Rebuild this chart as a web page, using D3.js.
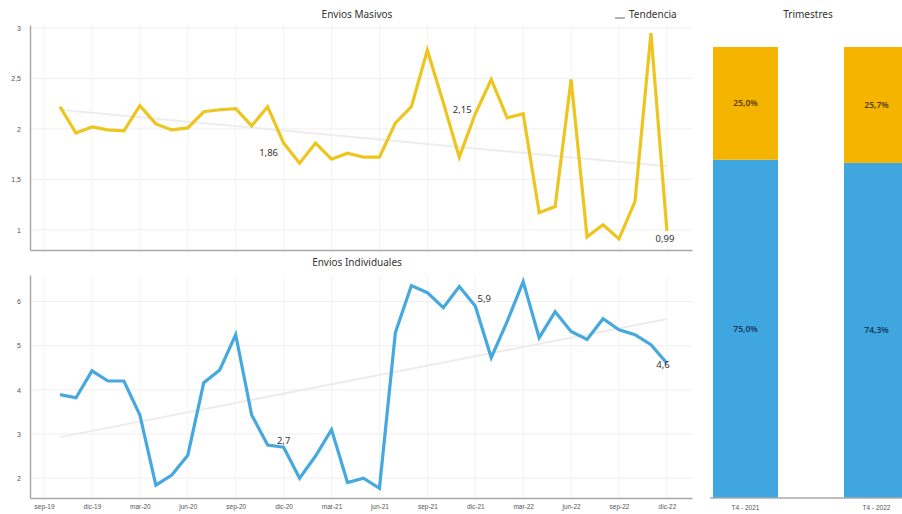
<!DOCTYPE html>
<html>
<head>
<meta charset="utf-8">
<script src="https://cdn.jsdelivr.net/npm/d3@7"></script>
<style>
  html, body { margin: 0; padding: 0; background: #fff; }
  svg { display: block; font-family: "Noto Sans", Lato, sans-serif; }
</style>
</head>
<body>
<svg id="chart" width="902" height="514"></svg>
<script>
// Months covered by both series (oct-19 .. dic-22)
const months = [
  "oct-19","nov-19","dic-19","ene-20","feb-20","mar-20","abr-20","may-20","jun-20",
  "jul-20","ago-20","sep-20","oct-20","nov-20","dic-20","ene-21","feb-21","mar-21",
  "abr-21","may-21","jun-21","jul-21","ago-21","sep-21","oct-21","nov-21","dic-21",
  "ene-22","feb-22","mar-22","abr-22","may-22","jun-22","jul-22","ago-22","sep-22",
  "oct-22","nov-22","dic-22"
];

// Quarterly tick labels on the shared time axis
const tickLabels = ["sep-19","dic-19","mar-20","jun-20","sep-20","dic-20","mar-21",
  "jun-21","sep-21","dic-21","mar-22","jun-22","sep-22","dic-22"];

// Envios Masivos (monthly)
const masivos = [
  2.22, 1.96, 2.02, 1.99, 1.98, 2.23, 2.05, 1.99, 2.01, 2.17,
  2.19, 2.20, 2.03, 2.22, 1.86, 1.66, 1.86, 1.70, 1.76, 1.72,
  1.72, 2.06, 2.22, 2.78, 2.26, 1.72, 2.15, 2.49, 2.11, 2.15,
  1.17, 1.23, 2.49, 0.93, 1.05, 0.91, 1.28, 2.95, 0.99
];

// Envios Individuales (monthly)
const individuales = [
  3.89, 3.82, 4.43, 4.20, 4.20, 3.43, 1.84, 2.07, 2.52, 4.16,
  4.45, 5.25, 3.43, 2.75, 2.70, 2.00, 2.50, 3.10, 1.90, 2.00,
  1.77, 5.30, 6.36, 6.20, 5.86, 6.34, 5.90, 4.73, 5.55, 6.45,
  5.18, 5.77, 5.32, 5.14, 5.61, 5.36, 5.25, 5.02, 4.60
];

// Labelled points (month labels)
const masivosLabelled = ["dic-20", "dic-21", "dic-22"];
const individualesLabelled = ["dic-20", "dic-21", "dic-22"];

// Quarterly share
const quarters = ["T4 - 2021", "T4 - 2022"];
const shareMasivos = [25.0, 25.7];
const shareIndividuales = [75.0, 74.3];

const svg = d3.select("#chart");
const fmt = d3.format(".2~f");
const comma = v => String(v).replace(".", ",");

const YELLOW = "#EDC213";
const BLUE = "#3BA3DD";
const ORANGE = "#F4B400";
const BAR_BLUE = "#40A6E0";

// Shared month-index x scale; tick "sep-19" sits one month before the first point
const x = d3.scaleLinear().domain([-1.88, months.length + 0.57]).range([30, 692]);
const tickIndex = tickLabels.map(l => l === "sep-19" ? -1 : months.indexOf(l));

function linearFit(values) {
  const n = values.length;
  const mx = d3.mean(values, (d, i) => i);
  const my = d3.mean(values);
  let sxy = 0, sxx = 0;
  values.forEach((v, i) => { sxy += (i - mx) * (v - my); sxx += (i - mx) * (i - mx); });
  const b = sxy / sxx, a = my - b * mx;
  return [a, a + b * (n - 1)];
}

function panel(opts) {
  const { values, yDomain, top, bottom, ticks, color, title, labelled, labelOffsets, trendColor } = opts;
  const y = d3.scaleLinear().domain(yDomain).range([bottom, top]);
  const g = svg.append("g");

  // grid
  g.append("g").selectAll("line.h").data(ticks).join("line")
    .attr("x1", 31).attr("x2", 692)
    .attr("y1", d => y(d)).attr("y2", d => y(d))
    .attr("stroke", "#efefef").attr("stroke-width", 1);
  g.append("g").selectAll("line.v").data(tickIndex).join("line")
    .attr("x1", d => x(d)).attr("x2", d => x(d))
    .attr("y1", top).attr("y2", bottom)
    .attr("stroke", "#f3f3f3").attr("stroke-width", 1);

  // y axis
  const yAxis = g.append("g").attr("transform", "translate(30,0)")
    .call(d3.axisLeft(y).tickValues(ticks).tickSize(0).tickPadding(9).tickFormat(comma));
  yAxis.select(".domain").attr("stroke", "#a8a8a8").attr("stroke-width", 1.5);
  yAxis.selectAll("text").attr("font-size", 7).attr("fill", "#555");

  // x axis line
  const xAxis = g.append("g").attr("transform", `translate(0,${bottom})`)
    .call(d3.axisBottom(x).tickValues(tickIndex).tickSize(0).tickPadding(6)
      .tickFormat((d, i) => opts.showX ? tickLabels[i] : ""));
  xAxis.select(".domain").attr("stroke", "#a8a8a8").attr("stroke-width", 1.5);
  xAxis.selectAll("text").attr("font-size", 6.5).attr("fill", "#555");

  // trend
  const [t0, t1] = linearFit(values);
  g.append("line")
    .attr("x1", x(0)).attr("y1", y(t0))
    .attr("x2", x(values.length - 1)).attr("y2", y(t1))
    .attr("stroke", trendColor).attr("stroke-width", 2);

  // series
  const line = d3.line().x((d, i) => x(i)).y(d => y(d));
  g.append("path").datum(values).attr("d", line)
    .attr("fill", "none").attr("stroke", color).attr("stroke-width", 3.2)
    .attr("stroke-linejoin", "miter").attr("stroke-opacity", 0.95);

  // value labels
  labelled.forEach((m, k) => {
    const i = months.indexOf(m);
    const [dx, dy] = labelOffsets[k];
    g.append("text")
      .attr("x", x(i) + dx).attr("y", y(values[i]) + dy)
      .attr("text-anchor", "middle").attr("font-size", 9.5).attr("fill", "#333")
      .text(comma(fmt(values[i])));
  });

  // title
  g.append("text").attr("x", 357).attr("y", top - (opts.titleGap || 9))
    .attr("text-anchor", "middle").attr("font-size", 10).attr("fill", "#333")
    .text(title);
}

panel({
  values: masivos, yDomain: [0.8, 3.03], top: 25, bottom: 250,
  ticks: [1, 1.5, 2, 2.5, 3], color: YELLOW, title: "Envios Masivos",
  labelled: masivosLabelled, labelOffsets: [[-15, 13], [-13, -1], [-2, 11]],
  trendColor: "#ededed", showX: false, titleGap: 7
});

panel({
  values: individuales, yDomain: [1.55, 6.6], top: 275, bottom: 498,
  ticks: [2, 3, 4, 5, 6], color: BLUE, title: "Envios Individuales",
  labelled: individualesLabelled, labelOffsets: [[0, -3], [9, -4], [-4, 5]],
  trendColor: "#f0ebeb", showX: true, titleGap: 9
});

// Legend
svg.append("line").attr("x1", 615).attr("x2", 625).attr("y1", 18).attr("y2", 18)
  .attr("stroke", "#999").attr("stroke-width", 1.5);
svg.append("text").attr("x", 629).attr("y", 18).attr("font-size", 10).attr("fill", "#333")
  .text("Tendencia");

// Quarterly stacked bars (the second bar runs past the right edge)
const xb = d3.scaleBand().domain(quarters).range([713, 909]).paddingInner(0.504).paddingOuter(0);
const yb = d3.scaleLinear().domain([0, 100]).range([498, 47]);
const bg = svg.append("g");
quarters.forEach((q, i) => {
  const ind = shareIndividuales[i], mas = shareMasivos[i];
  bg.append("rect").attr("x", xb(q)).attr("width", xb.bandwidth())
    .attr("y", yb(ind)).attr("height", yb(0) - yb(ind)).attr("fill", BAR_BLUE);
  bg.append("rect").attr("x", xb(q)).attr("width", xb.bandwidth())
    .attr("y", yb(ind + mas)).attr("height", yb(ind) - yb(ind + mas)).attr("fill", ORANGE);
  const cx = xb(q) + xb.bandwidth() / 2;
  bg.append("text").attr("x", cx).attr("y", (yb(ind) + yb(ind + mas)) / 2 + 3)
    .attr("text-anchor", "middle").attr("font-size", 8.5).attr("font-weight", 600)
    .attr("fill", "#5a3c00").text(comma(mas.toFixed(1)) + "%");
  bg.append("text").attr("x", cx).attr("y", (yb(0) + yb(ind)) / 2 + 3)
    .attr("text-anchor", "middle").attr("font-size", 8.5).attr("font-weight", 600)
    .attr("fill", "#123a5e").text(comma(ind.toFixed(1)) + "%");
});
const bAxis = bg.append("g").attr("transform", "translate(0,498)")
  .call(d3.axisBottom(xb).tickSize(0).tickPadding(7));
bAxis.select(".domain").remove();
bg.append("line").attr("x1", 710).attr("x2", 902).attr("y1", 498).attr("y2", 498)
  .attr("stroke", "#a8a8a8").attr("stroke-width", 1.5);
bAxis.selectAll("text").attr("font-size", 6.5).attr("fill", "#555");
svg.append("text").attr("x", 808).attr("y", 18).attr("text-anchor", "middle")
  .attr("font-size", 10).attr("fill", "#333").text("Trimestres");
</script>
</body>
</html>
